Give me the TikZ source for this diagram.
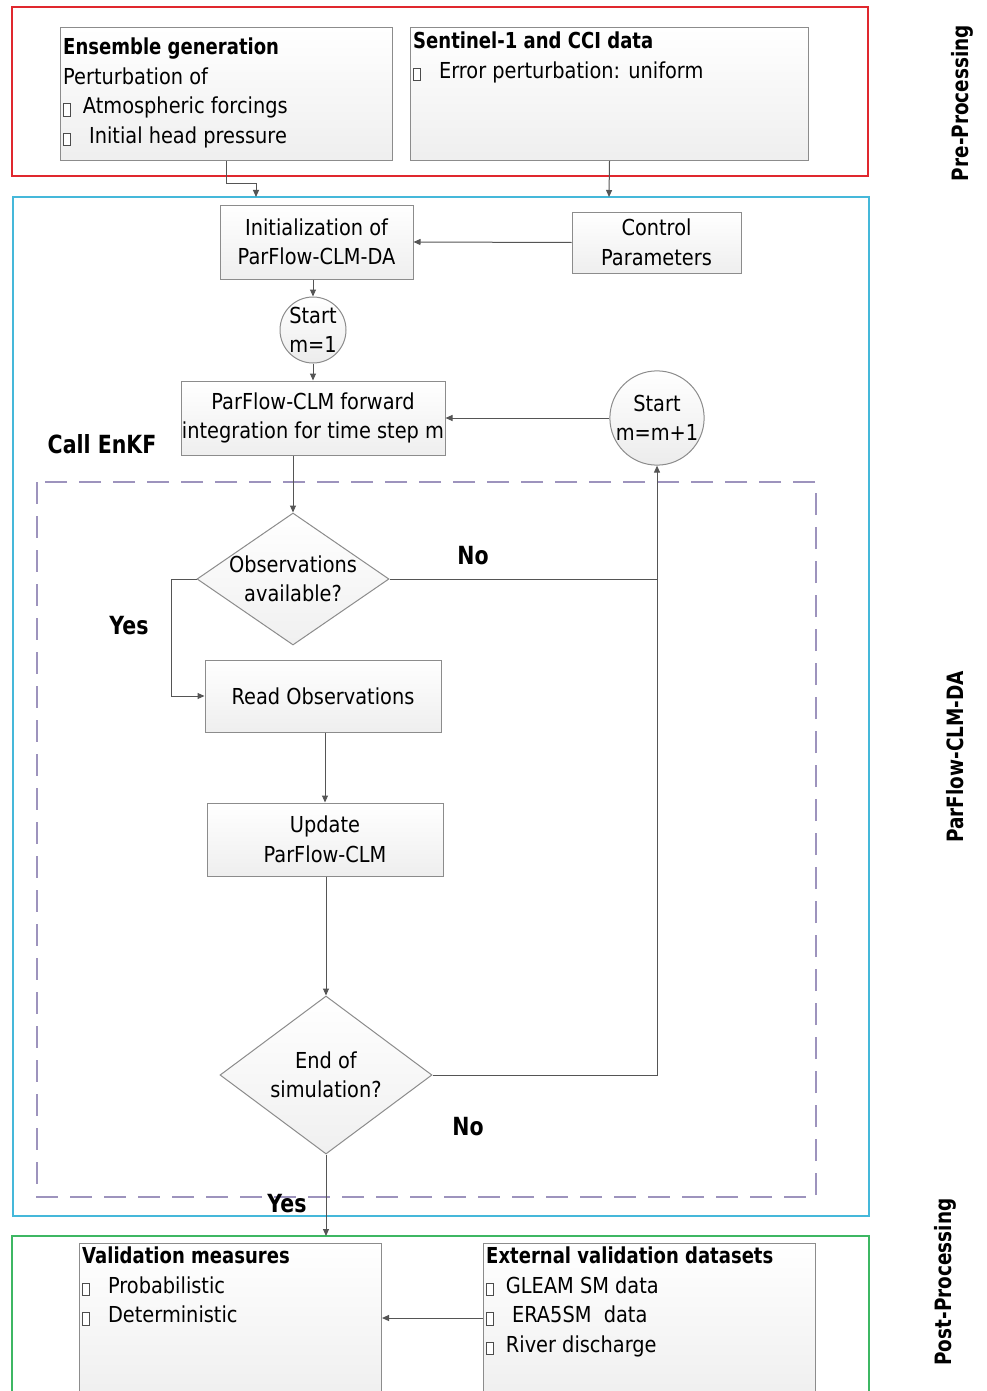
\documentclass[tikz,border=0pt]{standalone}
\usepackage{fontspec}
\setmainfont{DejaVu Sans}[FakeStretch=0.88, BoldFeatures={FakeStretch=0.82}]
\usetikzlibrary{shapes.geometric,arrows.meta}

\definecolor{framered}{HTML}{E0282E}
\definecolor{framecyan}{HTML}{45B8DA}
\definecolor{framegreen}{HTML}{3DB763}
\definecolor{dashpurple}{HTML}{9D93BD}
\definecolor{boxline}{HTML}{8C8C8C}
\definecolor{arrowgray}{HTML}{555555}

% small empty box used as bullet
\newcommand{\sqb}{\raisebox{-2pt}{\fboxsep=0pt\fboxrule=0.7pt\fcolorbox{black!70}{white}{\rule{0pt}{12pt}\rule{6pt}{0pt}}}}

\tikzset{
  procbox/.style={draw=boxline, line width=1pt, top color=white, bottom color=gray!13, inner sep=0pt, align=center},
  startcirc/.style={circle, draw=boxline, line width=1pt, top color=white, bottom color=gray!15, inner sep=0pt, align=center},
  decision/.style={diamond, draw=boxline, line width=1pt, top color=white, bottom color=gray!12, inner sep=0pt},
  listtext/.style={anchor=north west, align=left, inner xsep=3pt, inner ysep=11pt},
  flow/.style={draw=arrowgray, line width=1pt, -{Triangle[length=7pt,width=6pt]}},
  plainflow/.style={draw=arrowgray, line width=1pt},
  sidelabel/.style={rotate=90, font=\fontsize{22.5}{22.5}\selectfont\bfseries},
  branch/.style={font=\fontsize{25}{25}\selectfont\bfseries}
}

\begin{document}
\begin{tikzpicture}[x=1pt, y=-1pt, font=\fontsize{22}{29.5}\selectfont]

    % Page
    \useasboundingbox[fill=white] (0,0) rectangle (986,1391);

    % Frames
    \draw[framered, line width=2pt] (12,7) rectangle (868,176);
    \draw[framecyan, line width=2pt] (13,197) rectangle (869,1216);
    \draw[framegreen, line width=2pt] (12,1236) rectangle (869,1400);
    \draw[dashpurple, line width=1.6pt, dash pattern=on 22pt off 12pt] (37,482) rectangle (816,1197);

    % Side labels
    \node[sidelabel] (prelbl) at (962,103) {Pre-Processing};
    \node[sidelabel] (dalbl) at (955,757) {ParFlow-CLM-DA};
    \node[sidelabel] (postlbl) at (945,1282) {Post-Processing};

    % Pre-processing boxes
    \node[procbox, anchor=north west, minimum width=332, minimum height=133] (ens) at (60,27) {};
    \node[listtext] (enstxt) at (ens.north west)
      {\textbf{Ensemble generation}\\Perturbation of\\\sqb\ \ Atmospheric forcings\\\sqb\ \ \ Initial head pressure};
    \node[procbox, anchor=north west, minimum width=398, minimum height=133] (sen) at (410,27) {};
    \node[listtext, inner ysep=5pt] (sentxt) at (sen.north west)
      {\textbf{Sentinel-1 and CCI data}\\\sqb\ \ \ Error perturbation: uniform};

    % Main loop
    \node[procbox, minimum width=193, minimum height=74] (init) at (316.5,242) {Initialization of\\ParFlow-CLM-DA};
    \node[procbox, minimum width=169, minimum height=61] (ctrl) at (656.5,242.5) {Control\\Parameters};
    \node[startcirc, minimum size=66] (start1) at (313,330) {Start\\m=1};
    \node[procbox, minimum width=264, minimum height=74] (fwd) at (313,418) {ParFlow-CLM forward\\integration for time step m};
    \node[startcirc, minimum size=90] (startn) at (657,418) {Start\\m=m+1};
    \node[branch] (enkf) at (102,444) {Call EnKF};

    % EnKF part
    \node[decision, minimum width=192, minimum height=132] (obs) at (293,579) {};
    \node[align=center] (obstxt) at (obs) {Observations\\available?};
    \node[procbox, minimum width=236, minimum height=72] (read) at (323,696) {Read Observations};
    \node[procbox, minimum width=236, minimum height=73] (upd) at (325,839.5) {Update\\ParFlow-CLM};
    \node[decision, minimum width=212, minimum height=158] (end) at (326,1075) {};
    \node[align=center] (endtxt) at (end) {End of\\simulation?};

    \node[branch] (no1) at (473,556) {No};
    \node[branch] (yes1) at (129,626) {Yes};
    \node[branch] (no2) at (468,1127) {No};
    \node[branch] (yes2) at (287,1204) {Yes};

    % Post-processing boxes
    \node[procbox, anchor=north west, minimum width=302, minimum height=160] (val) at (79,1243) {};
    \node[listtext, inner ysep=4pt] (valtxt) at (val.north west)
      {\textbf{Validation measures}\\\sqb\ \ \ Probabilistic\\\sqb\ \ \ Deterministic};
    \node[procbox, anchor=north west, minimum width=332, minimum height=160] (ext) at (483,1243) {};
    \node[listtext, inner ysep=4pt] (exttxt) at (ext.north west)
      {\textbf{External validation datasets}\\\sqb\ \ GLEAM SM data\\\sqb\ \ \ ERA5SM\ \ data\\\sqb\ \ River discharge};

    % Connector ends
    \coordinate (ensin) at (256,197);
    \coordinate (senin) at (609,197);
    \coordinate (postin) at (326,1236);
    \coordinate (nojoin) at (657,579);

    % Connectors
    \draw[flow] (ens.south) -- ++(0,23) -| (ensin);
    \draw[flow] (sen.south) -- (senin);
    \draw[flow] (ctrl.west) -- (init.east);
    \draw[flow] (start1.north |- init.south) -- (start1.north);
    \draw[flow] (start1.south) -- (fwd.north);
    \draw[flow] (startn.west) -- (startn.west -| fwd.east);
    \draw[flow] (obs.north |- fwd.south) -- (obs.north);
    \draw[plainflow] (obs.east) -- (nojoin);
    \draw[flow] (nojoin) -- (startn.south);
    \draw[flow] (obs.west) -- ++(-25,0) |- (read.west);
    \draw[flow] (upd.north |- read.south) -- (upd.north);
    \draw[flow] (end.north |- upd.south) -- (end.north);
    \draw[plainflow] (end.east) -| (nojoin);
    \draw[flow] (end.south) -- (postin);
    \draw[flow] (ext.west |- 0,1318) -- (val.east |- 0,1318);

\end{tikzpicture}
\end{document}
